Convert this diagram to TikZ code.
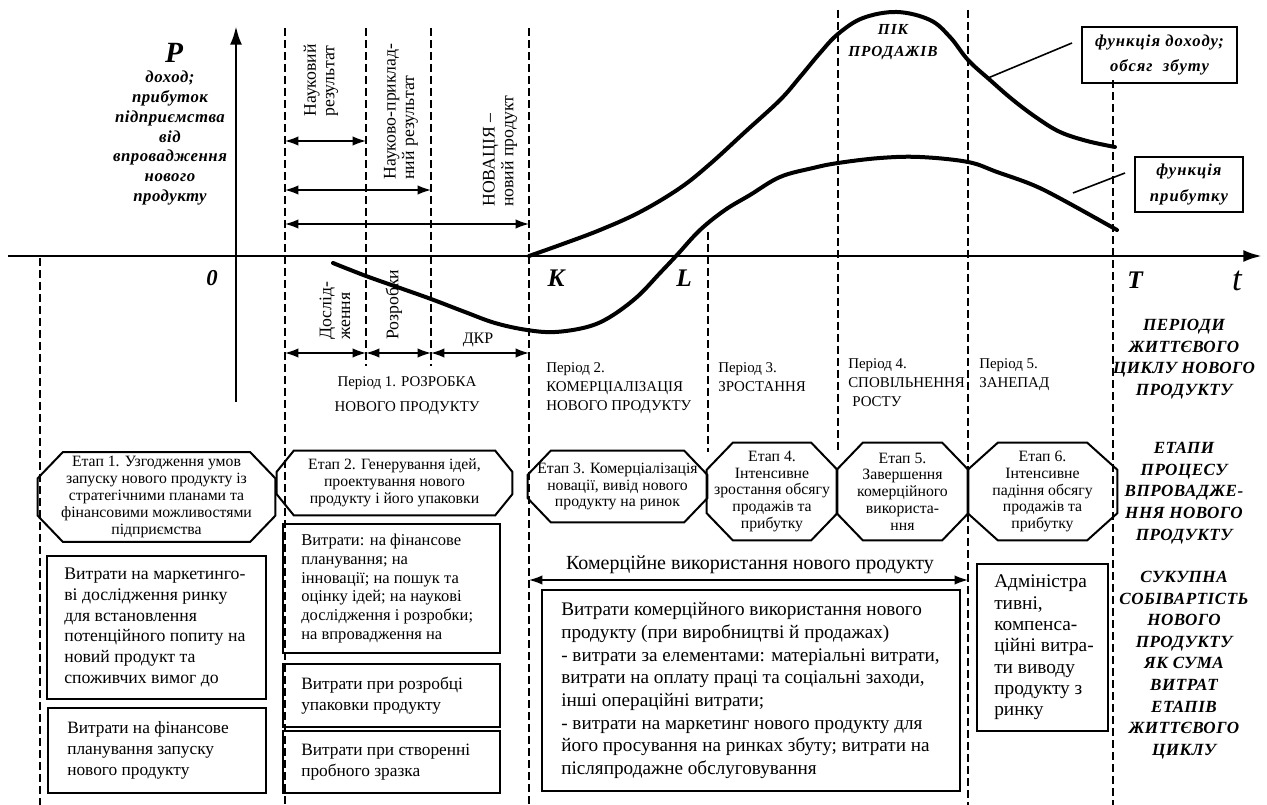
\documentclass[tikz,border=0pt]{standalone}
\usepackage{fontspec}
\setmainfont{Liberation Serif}
\newfontfamily\spacedserif[LetterSpace=6]{Liberation Serif}
\newfontfamily\lightspaced[LetterSpace=3]{Liberation Serif}
\usetikzlibrary{arrows.meta}

\tikzset{
  axisline/.style={line width=2.2pt},
  curveline/.style={line width=3pt, line cap=round, line join=round},
  dashline/.style={line width=1.1pt, dash pattern=on 6pt off 3pt},
  dimarrow/.style={line width=1.1pt, {Latex[length=10pt,width=7pt]}-{Latex[length=10pt,width=7pt]}},
  leader/.style={line width=1.2pt},
  etap/.style={inner sep=0pt, align=center, font=\fontsize{11.8}{12.6}\selectfont},
  etapline/.style={line width=1.5pt},
  costbox/.style={draw, line width=1.5pt, inner sep=0pt},
  costtext/.style={anchor=west, align=left, inner sep=0pt},
  period/.style={anchor=north west, align=left, inner sep=0pt, font=\fontsize{11.2}{14.5}\selectfont},
  bilabel/.style={align=center, inner sep=0pt, font=\lightspaced\bfseries\itshape\fontsize{12.8}{16.2}\selectfont},
  axlbl/.style={inner sep=0pt, font=\bfseries\itshape\fontsize{19}{19}\selectfont},
  vlabel/.style={rotate=90, anchor=west, align=left, inner sep=0pt, font=\fontsize{13.3}{14}\selectfont},
  fbox/.style={draw, line width=1.5pt, inner sep=0pt, align=center, font=\spacedserif\bfseries\itshape\fontsize{12.5}{19}\selectfont},
}

% octagon round a node: #1 node, #2 cut in x, #3 cut in y
\newcommand{\octa}[3]{%
  \draw[etapline] ([xshift=#2]#1.north west) -- ([xshift=-#2]#1.north east)
    -- ([yshift=-#3]#1.north east) -- ([yshift=#3]#1.south east)
    -- ([xshift=-#2]#1.south east) -- ([xshift=#2]#1.south west)
    -- ([yshift=#3]#1.south west) -- ([yshift=-#3]#1.north west) -- cycle;}

\begin{document}
\begin{tikzpicture}[x=0.75pt, y=-0.75pt]
\useasboundingbox (0,0) rectangle (1267,805);

% axes
\coordinate (O) at (236,256);
\draw[axisline, -{Latex[length=14pt,width=9pt]}] (8,256) -- (1262,256);
\draw[axisline, -{Latex[length=14pt,width=9pt]}] (O |- 0,402) -- (O |- 0,26);

% vertical dashed lines
\coordinate (vA) at (40,258);
\coordinate (v0) at (285,28);
\coordinate (v1) at (366,28);
\coordinate (v2) at (431,28);
\coordinate (vK) at (529,28);
\coordinate (vL) at (708,232);
\coordinate (v4) at (838,10);
\coordinate (v5) at (968,10);
\coordinate (vT) at (1113,80);
\foreach \v in {vA, v0, vK, v5, vT} {
  \draw[dashline] (\v) -- (\v |- 0,805);
}
\foreach \v in {v1, v2} {
  \draw[dashline] (\v) -- (\v |- 0,366);
}
\foreach \v in {vL, v4} {
  \draw[dashline] (\v) -- (\v |- 0,452);
}

% double arrows
\draw[dimarrow] (v0 |- 0,141) -- (v1 |- 0,141);
\draw[dimarrow] (v0 |- 0,190) -- (v2 |- 0,190);
\draw[dimarrow] (v0 |- 0,224) -- (vK |- 0,224);
\draw[dimarrow] (v0 |- 0,353) -- (v1 |- 0,353);
\draw[dimarrow] (v1 |- 0,353) -- (v2 |- 0,353);
\draw[dimarrow] (v2 |- 0,353) -- (vK |- 0,353);
\draw[dimarrow] (vK |- 0,580) -- (v5 |- 0,580);

% curves
\draw[curveline] plot[smooth, tension=0.6] coordinates {(529,256) (560,245) (600,230) (640,212) (680,188) (710,164) (745,132) (780,100) (800,77) (820,53) (838,34) (863,18) (897,12) (930,20) (950,37) (968,60) (990,80) (1013,100) (1037,118) (1060,132) (1087,141) (1115,147)};
\draw[curveline] plot[smooth, tension=0.6] coordinates {(333,263) (366,276) (400,288) (431,299) (465,312) (495,323) (527,330) (555,332) (587,327) (610,317) (637,297) (660,273) (677,255) (700,230) (725,210) (750,195) (780,177) (813,168) (838,163) (880,158) (920,157) (968,162) (997,172) (1033,185) (1063,200) (1117,230)};

% function boxes
\node[fbox, minimum width=116.25pt, minimum height=42pt] (fdoh) at (1159.5,55) {функція доходу;\\обсяг~~збуту};
\node[fbox, minimum width=81pt, minimum height=41.25pt] (fprib) at (1189,184.5) {функція\\прибутку};
\coordinate (revpt) at (988,78);
\coordinate (revend) at (1072,43);
\coordinate (profpt) at (1073,193);
\coordinate (profend) at (1125,173);
\draw[leader] (revpt) -- (revend);
\draw[leader] (profpt) -- (profend);

% axis labels
\node[inner sep=0pt, font=\bfseries\itshape\fontsize{22}{22}\selectfont] (P) at (174,53) {P};
\node[bilabel, font=\lightspaced\bfseries\itshape\fontsize{12.6}{14.8}\selectfont] (Pdesc) at (170,138) {доход;\\прибуток\\підприємства\\від\\впровадження\\нового\\продукту};
\node[axlbl, font=\bfseries\itshape\fontsize{17}{17}\selectfont] (zero) at (212,278) {0};
\node[axlbl] (K) at (556,278) {K};
\node[axlbl] (L) at (684,278) {L};
\node[axlbl] (T) at (1135,280) {T};
\node[inner sep=0pt, font=\itshape\fontsize{26}{26}\selectfont] (t) at (1237,281) {t};
\node[bilabel, font=\spacedserif\bfseries\itshape\fontsize{11.5}{16}\selectfont] (pik) at (893,42) {ПІК\\ПРОДАЖІВ};

% rotated labels
\node[vlabel] (nres) at (321,117) {Науковий\\результат};
\node[vlabel] (npr) at (401,180) {Науково-приклад-\\ний результат};
\node[vlabel] (nov) at (500,207) {НОВАЦІЯ –\\новий продукт};
\node[vlabel] (dosl) at (335,340) {Дослід-\\ження};
\node[vlabel] (rozr) at (394,340) {Розробки};
\node[inner sep=0pt, font=\fontsize{12}{12}\selectfont] (dkr) at (478,340) {ДКР};

% periods
\node[period, align=center, anchor=north, font=\fontsize{11.2}{19}\selectfont] (per1) at (407,376) {Період 1. РОЗРОБКА\\НОВОГО ПРОДУКТУ};
\node[period] (per2) at (546,362) {Період 2.\\КОМЕРЦІАЛІЗАЦІЯ\\НОВОГО ПРОДУКТУ};
\node[period] (per3) at (718,362) {Період 3.\\ЗРОСТАННЯ};
\node[period] (per4) at (848,358) {Період 4.\\СПОВІЛЬНЕННЯ\\\hspace{3pt}РОСТУ};
\node[period] (per5) at (979,358) {Період 5.\\ЗАНЕПАД};

% right column
\node[bilabel] (perlbl) at (1184,359) {ПЕРІОДИ\\ЖИТТЄВОГО\\ЦИКЛУ НОВОГО\\ПРОДУКТУ};
\node[bilabel] (etlbl) at (1184,493) {ЕТАПИ\\ПРОЦЕСУ\\ВПРОВАДЖЕ-\\ННЯ НОВОГО\\ПРОДУКТУ};
\node[bilabel] (sumlbl) at (1184,665) {СУКУПНА\\СОБІВАРТІСТЬ\\НОВОГО\\ПРОДУКТУ\\ЯК СУМА\\ВИТРАТ\\ЕТАПІВ\\ЖИТТЄВОГО\\ЦИКЛУ};

% stages
\node[etap, minimum width=177.75pt, minimum height=66.75pt] (e1) at (156.5,497) {Етап 1. Узгодження умов\\запуску нового продукту із\\стратегічними планами та\\фінансовими можливостями\\підприємства};
\node[etap, minimum width=176.25pt, minimum height=48pt] (e2) at (394.5,483) {Етап 2. Генерування ідей,\\проектування нового\\продукту і його упаковки};
\node[etap, minimum width=134.25pt, minimum height=53.25pt] (e3) at (617.5,486.5) {Етап 3. Комерціалізація\\новації, вивід нового\\продукту на ринок};
\node[etap, minimum width=97.5pt, minimum height=72.75pt] (e4) at (772,491.5) {Етап 4.\\Інтенсивне\\зростання обсягу\\продажів та\\прибутку};
\node[etap, minimum width=98.25pt, minimum height=72.75pt] (e5) at (902.5,491.5) {Етап 5.\\Завершення\\комерційного\\використа-\\ння};
\node[etap, minimum width=111.75pt, minimum height=72.75pt] (e6) at (1042.5,491.5) {Етап 6.\\Інтенсивне\\падіння обсягу\\продажів та\\прибутку};
\octa{e1}{18.75pt}{19.5pt}
\octa{e2}{12.75pt}{15.75pt}
\octa{e3}{17.25pt}{18pt}
\octa{e4}{19.5pt}{20.25pt}
\octa{e5}{19.5pt}{20.25pt}
\octa{e6}{22.5pt}{20.25pt}

% costs
\node[costbox, minimum width=164.25pt, minimum height=107.25pt] (a1) at (156.5,627.5) {};
\node[costtext, font=\fontsize{13.3}{15.5}\selectfont] (a1t) at ([xshift=13.5pt]a1.west) {Витрати на маркетинго-\\ві дослідження ринку\\для встановлення\\потенційного попиту на\\новий продукт та\\споживчих вимог до};
\node[costbox, minimum width=163.5pt, minimum height=63.75pt] (a2) at (157,750.5) {};
\node[costtext, font=\fontsize{13}{16}\selectfont] (a2t) at ([xshift=15pt]a2.west) {Витрати на фінансове\\планування запуску\\нового продукту};
\node[costbox, minimum width=162.75pt, minimum height=96.75pt] (b1) at (391.5,588.5) {};
\node[costtext, font=\fontsize{12.4}{14.2}\selectfont] (b1t) at ([xshift=14.25pt]b1.west) {Витрати: на фінансове\\планування; на\\інновації; на пошук та\\оцінку ідей; на наукові\\дослідження і розробки;\\на впровадження на};
\node[costbox, minimum width=162.75pt, minimum height=47.25pt] (b2) at (391.5,695.5) {};
\node[costtext, font=\fontsize{13}{15.5}\selectfont] (b2t) at ([xshift=14.25pt]b2.west) {Витрати при розробці\\упаковки продукту};
\node[costbox, minimum width=162.75pt, minimum height=46.5pt] (b3) at (391.5,762) {};
\node[costtext, font=\fontsize{13}{15.5}\selectfont] (b3t) at ([xshift=14.25pt]b3.west) {Витрати при створенні\\пробного зразка};
\node[costbox, minimum width=313.5pt, minimum height=150.75pt] (c1) at (751,690.5) {};
\node[costtext, font=\fontsize{14.4}{17}\selectfont] (c1t) at ([xshift=15pt]c1.west) {Витрати комерційного використання нового\\продукту (при виробництві й продажах)\\- витрати за елементами: матеріальні витрати,\\витрати на оплату праці та соціальні заходи,\\інші операційні витрати;\\- витрати на маркетинг нового продукту для\\його просування на ринках збуту; витрати на\\післяпродажне обслуговування};
\node[costbox, minimum width=98.25pt, minimum height=125.25pt] (d1) at (1042.5,647.5) {};
\node[costtext, font=\fontsize{14.5}{16}\selectfont] (d1t) at ([xshift=13.5pt]d1.west) {Адміністра\\тивні,\\компенса-\\ційні витра-\\ти виводу\\продукту з\\ринку};

\node[inner sep=0pt, font=\fontsize{15}{17}\selectfont] (komlbl) at (750,565) {Комерційне використання нового продукту};

\end{tikzpicture}
\end{document}
